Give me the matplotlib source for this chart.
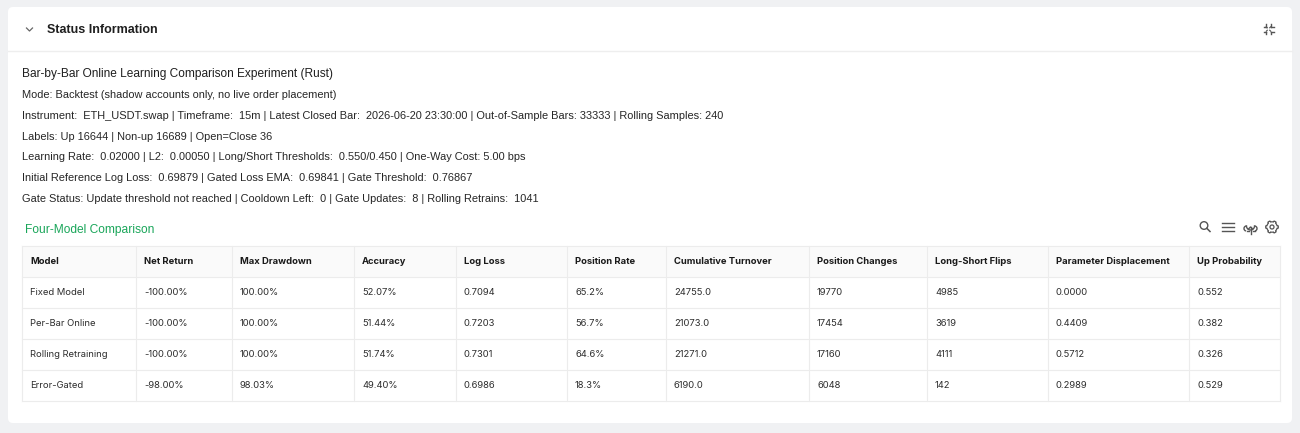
import matplotlib
matplotlib.use("Agg")
import numpy as np
import matplotlib.pyplot as plt
from matplotlib.patches import FancyBboxPatch, Rectangle, Circle, Arc, Polygon

# ---- data ----
panel_title = "Status Information"
info_title = "Bar-by-Bar Online Learning Comparison Experiment (Rust)"
info_lines = [
    "Mode: Backtest (shadow accounts only, no live order placement)",
    "Instrument:  ETH_USDT.swap | Timeframe:  15m | Latest Closed Bar:  2026-06-20 23:30:00 | Out-of-Sample Bars: 33333 | Rolling Samples: 240",
    "Labels: Up 16644 | Non-up 16689 | Open=Close 36",
    "Learning Rate:  0.02000 | L2:  0.00050 | Long/Short Thresholds:  0.550/0.450 | One-Way Cost: 5.00 bps",
    "Initial Reference Log Loss:  0.69879 | Gated Loss EMA:  0.69841 | Gate Threshold:  0.76867",
    "Gate Status: Update threshold not reached | Cooldown Left:  0 | Gate Updates:  8 | Rolling Retrains:  1041",
]
table_title = "Four-Model Comparison"
columns = ["Model", "Net Return", "Max Drawdown", "Accuracy", "Log Loss", "Position Rate",
           "Cumulative Turnover", "Position Changes", "Long-Short Flips",
           "Parameter Displacement", "Up Probability"]
models = ["Fixed Model", "Per-Bar Online", "Rolling Retraining", "Error-Gated"]
net_return = ["-100.00%", "-100.00%", "-100.00%", "-98.00%"]
max_drawdown = ["100.00%", "100.00%", "100.00%", "98.03%"]
accuracy = ["52.07%", "51.44%", "51.74%", "49.40%"]
log_loss = ["0.7094", "0.7203", "0.7301", "0.6986"]
position_rate = ["65.2%", "56.7%", "64.6%", "18.3%"]
turnover = ["24755.0", "21073.0", "21271.0", "6190.0"]
position_changes = ["19770", "17454", "17160", "6048"]
flips = ["4985", "3619", "4111", "142"]
param_disp = ["0.0000", "0.4409", "0.5712", "0.2989"]
up_prob = ["0.552", "0.382", "0.326", "0.529"]

rows = list(zip(models, net_return, max_drawdown, accuracy, log_loss, position_rate,
                turnover, position_changes, flips, param_disp, up_prob))

# column edges in pixels
col_edges = [22, 136, 232, 354, 456, 567, 666, 809, 927, 1048, 1189, 1280]

W, H = 1300, 433
px = 0.72  # px -> pt at 100 dpi

fig = plt.figure(figsize=(W / 100, H / 100), dpi=100)
fig.patch.set_facecolor("#f0f1f3")
ax = fig.add_axes([0, 0, 1, 1])
ax.set_xlim(0, W)
ax.set_ylim(H, 0)
ax.axis("off")

# card
ax.add_patch(FancyBboxPatch((8, 7), 1284, 416, boxstyle="round,pad=0,rounding_size=5",
                            facecolor="white", edgecolor="none"))
ax.plot([8, 1292], [50.5, 50.5], color="#eeeeee", lw=1)

# header
ax.plot([26.5, 29.5, 32.5], [28, 31, 28], color="#666666", lw=0.9)
ax.text(47, 30, panel_title, fontsize=12.5 * px, fontweight="bold", color="#1f1f1f",
        va="center", ha="left", family="Liberation Sans")
# expand icon: four small corner marks
cx, cy = 1268.5, 29
ic = "#555555"
for sx in (-1, 1):
    for sy in (-1, 1):
        x0, y0 = cx + sx * 2.5, cy + sy * 2.5
        ax.plot([x0, x0 + sx * 2.5], [y0, y0], color=ic, lw=1.0)
        ax.plot([x0, x0], [y0, y0 + sy * 2.5], color=ic, lw=1.0)
        ax.plot([x0 - sx * 0.3, x0 - sx * 1.3], [y0 - sy * 0.3, y0 - sy * 1.3], color=ic, lw=0.8)

# info lines
ax.text(22, 73.5, info_title, fontsize=11.85 * px, color="#1f1f1f", va="center", ha="left",
        family="Liberation Sans")
for i, line in enumerate(info_lines):
    ax.text(22, 95.5 + i * 20.6, line, fontsize=11.0 * px, color="#262626", va="center",
            ha="left", family="Liberation Sans")

# table title
ax.text(25, 229.5, table_title, fontsize=12 * px, color="#1aa65a", va="center", ha="left",
        family="Liberation Sans")

# toolbar icons
ax.add_patch(Circle((1204, 225.5), 3.8, fill=False, ec=ic, lw=1.0))
ax.plot([1206.8, 1210], [228.3, 231.5], color=ic, lw=1.1)
for dy in (-4, 0, 4):
    ax.plot([1222, 1234], [227 + dy, 227 + dy], color=ic, lw=1.0)
# cloud with arrow
ax.add_patch(Arc((1250.5, 226), 8, 8, theta1=-10, theta2=190, ec=ic, lw=1.0))
ax.add_patch(Arc((1246.5, 228.5), 5, 5, theta1=100, theta2=270, ec=ic, lw=1.0))
ax.add_patch(Arc((1254.5, 228.5), 5, 5, theta1=-90, theta2=80, ec=ic, lw=1.0))
ax.plot([1246.5, 1248.5], [231, 231], color=ic, lw=1.0)
ax.plot([1252.5, 1254.5], [231, 231], color=ic, lw=1.0)
ax.plot([1250.5, 1250.5], [227, 233.5], color=ic, lw=1.0)
ax.plot([1248.5, 1250.5, 1252.5], [229, 227, 229], color=ic, lw=1.0)
# gear
ang = np.linspace(0, 2 * np.pi, 97)
rad = 5.2 + 1.1 * (np.cos(6 * ang) > 0.2)
ax.add_patch(Polygon(np.column_stack([1272 + rad * np.cos(ang), 227 + rad * np.sin(ang)]),
                     closed=True, fill=False, ec=ic, lw=0.9))
ax.add_patch(Circle((1272, 227), 2.0, fill=False, ec=ic, lw=0.9))

# table
top, head_h, row_h = 246, 31, 31
n_rows = len(rows)
bottom = top + head_h + n_rows * row_h
line_c = "#ececec"
ax.add_patch(Rectangle((col_edges[0], top), col_edges[-1] - col_edges[0], head_h,
                       facecolor="#fafafa", edgecolor="none"))
for x in col_edges:
    ax.plot([x, x], [top, bottom], color=line_c, lw=0.8)
for k in range(n_rows + 2):
    y = top + (head_h + (k - 1) * row_h if k > 0 else 0)
    ax.plot([col_edges[0], col_edges[-1]], [y, y], color=line_c, lw=0.8)

for j, name in enumerate(columns):
    ax.text(col_edges[j] + 8, top + head_h / 2, name, fontsize=9.4 * px, fontweight="bold",
            color="#1a1a1a", va="center", ha="left", family="Inter")
for i, row in enumerate(rows):
    yc = top + head_h + i * row_h + row_h / 2
    for j, val in enumerate(row):
        ax.text(col_edges[j] + 8, yc, val, fontsize=9.4 * px, color="#2e2e2e",
                va="center", ha="left", family="Inter")

fig.savefig("out.png", dpi=100, facecolor=fig.get_facecolor())
